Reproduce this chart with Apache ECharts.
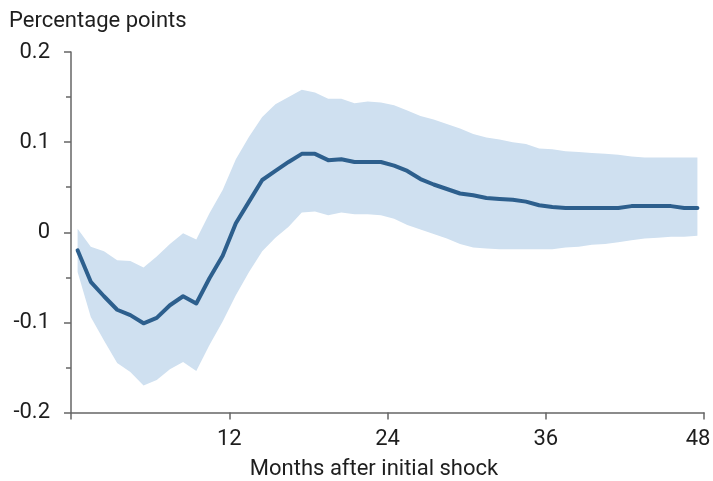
<!DOCTYPE html>
<html>
<head>
<meta charset="utf-8">
<script src="https://cdn.jsdelivr.net/npm/echarts@6/dist/echarts.min.js"></script>
<style>
html,body{margin:0;padding:0;background:#fff;}
#chart{width:713px;height:481px;}
</style>
</head>
<body>
<div id="chart"></div>
<script>
const months = [1,2,3,4,5,6,7,8,9,10,11,12,13,14,15,16,17,18,19,20,21,22,23,24,25,26,27,28,29,30,31,32,33,34,35,36,37,38,39,40,41,42,43,44,45,46,47,48];
const response = [-0.020,-0.055,-0.071,-0.086,-0.092,-0.101,-0.095,-0.081,-0.071,-0.079,
  -0.051,-0.026,0.010,0.034,0.058,0.068,0.078,0.087,0.087,0.080,
  0.081,0.078,0.078,0.078,0.074,0.068,0.059,0.053,0.048,0.043,
  0.041,0.038,0.037,0.036,0.034,0.030,0.028,0.027,0.027,0.027,
  0.027,0.027,0.029,0.029,0.029,0.029,0.027,0.027];
const lowerBand = [-0.044,-0.094,-0.120,-0.145,-0.155,-0.170,-0.164,-0.152,-0.144,-0.154,
  -0.125,-0.099,-0.070,-0.044,-0.021,-0.006,0.006,0.022,0.023,0.019,
  0.022,0.020,0.020,0.019,0.015,0.008,0.003,-0.002,-0.007,-0.013,
  -0.017,-0.018,-0.019,-0.019,-0.019,-0.019,-0.019,-0.017,-0.016,-0.014,
  -0.013,-0.011,-0.009,-0.007,-0.006,-0.005,-0.005,-0.004];
const upperBand = [0.004,-0.016,-0.021,-0.031,-0.032,-0.039,-0.027,-0.013,-0.001,-0.008,
  0.021,0.047,0.081,0.106,0.128,0.142,0.150,0.158,0.155,0.148,
  0.148,0.143,0.145,0.144,0.141,0.135,0.129,0.125,0.120,0.115,
  0.109,0.105,0.103,0.100,0.098,0.093,0.092,0.090,0.089,0.088,
  0.087,0.086,0.084,0.083,0.083,0.083,0.083,0.083];
const xTicks = [0,12,24,36,48];
const yTicks = [-0.2,-0.1,0,0.1,0.2];
const yTickLabels = ['-0.2','-0.1','0','0.1','0.2'];

// monthly observations are plotted at the centre of each month interval
const xPos = months.map(m => m - 0.5);
const bandData = xPos.map((x,i) => [x, lowerBand[i], upperBand[i]]);
const lineData = xPos.map((x,i) => [x, response[i]]);

const axisColor = '#666666';
const textColor = '#1e1e1e';
const font = 'Roboto, "Noto Sans", sans-serif';

const chart = echarts.init(document.getElementById('chart'), null, {renderer:'canvas'});
chart.setOption({
  animation: false,
  backgroundColor: '#ffffff',
  title: {
    text: 'Percentage points',
    left: 4, top: 5,
    textStyle: {fontFamily: font, fontSize: 22, fontWeight: 'normal', color: textColor}
  },
  grid: {left: 71, right: 9, top: 52, bottom: 68.5, containLabel: false, outerBoundsMode: 'none'},
  xAxis: {
    type: 'value',
    min: xTicks[0], max: xTicks[xTicks.length-1], interval: 12,
    name: 'Months after initial shock',
    nameLocation: 'middle',
    nameGap: 46,
    nameTextStyle: {fontFamily: font, fontSize: 22, color: textColor, padding: [0, 27, 0, 0]},
    axisLine: {show: true, onZero: false, lineStyle: {color: axisColor, width: 1.5}},
    axisTick: {show: true, length: 7, lineStyle: {color: axisColor, width: 1.5}},
    axisLabel: {
      fontFamily: font, fontSize: 22, color: textColor, margin: 16,
      formatter: v => {
        if (v === xTicks[0]) return '';
        if (v === xTicks[xTicks.length-1]) return '{last|' + v + '}';
        return String(v);
      },
      rich: {last: {fontFamily: font, fontSize: 22, color: textColor, padding: [0, 12, 0, 0]}}
    },
    splitLine: {show: false}
  },
  yAxis: {
    type: 'value',
    min: yTicks[0], max: yTicks[yTicks.length-1], interval: 0.1,
    axisLine: {show: true, lineStyle: {color: axisColor, width: 1.5}},
    axisTick: {show: true, length: 7, lineStyle: {color: axisColor, width: 1.5}},
    minorTick: {show: true, splitNumber: 2, length: 5, lineStyle: {color: axisColor, width: 1.5}},
    axisLabel: {
      fontFamily: font, fontSize: 22, color: textColor, margin: 21,
      formatter: v => {
        let best = 0;
        yTicks.forEach((t,i) => { if (Math.abs(t - v) < Math.abs(yTicks[best] - v)) best = i; });
        return yTickLabels[best];
      }
    },
    splitLine: {show: false}
  },
  series: [
    {
      name: 'band', type: 'custom',
      data: bandData,
      encode: {x: 0, y: [1, 2]},
      renderItem: function (params, api) {
        if (params.dataIndex !== 0) return;
        const upper = bandData.map(d => api.coord([d[0], d[2]]));
        const lower = bandData.map(d => api.coord([d[0], d[1]])).reverse();
        return {
          type: 'polygon',
          shape: {points: upper.concat(lower)},
          style: {fill: '#cfe0f0', stroke: 'none'},
          silent: true
        };
      },
      z: 1
    },
    {
      name: 'response', type: 'line', data: lineData,
      symbol: 'none',
      lineStyle: {color: '#2d5f8d', width: 4, cap: 'round', join: 'round'},
      z: 3
    }
  ]
});
</script>
</body>
</html>
